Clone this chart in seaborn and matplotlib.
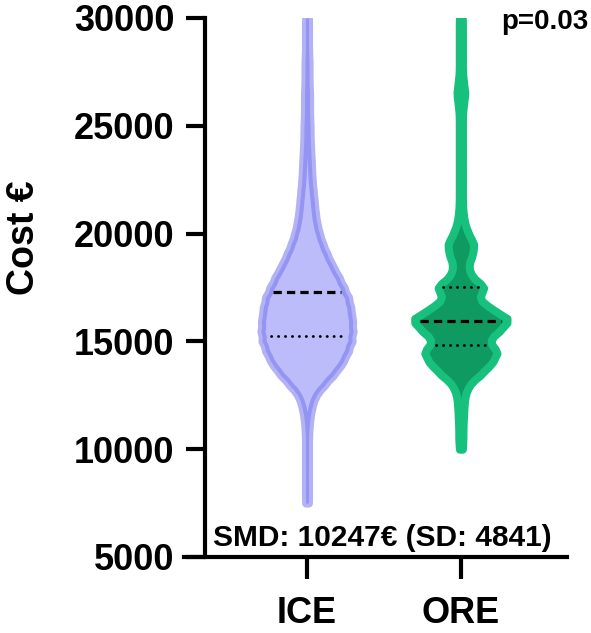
import numpy as np
import pandas as pd
import matplotlib
matplotlib.use("Agg")
import matplotlib.pyplot as plt
import seaborn as sns

# --- data ---
GROUPS = ["ICE", "ORE"]
# cost levels (EUR) and how many cases sit near each level
COST_LEVELS = [7500, 8000, 8500, 9000, 9500, 10000, 10500, 11000, 11500, 12000,
               12500, 13000, 13500, 14000, 14500, 15000, 15500, 16000, 16500, 17000,
               17500, 18000, 18500, 19000, 19500, 20000, 20500, 21000, 21500, 22000,
               22500, 23000, 23500, 24000, 24500, 25000, 25500, 26000, 26500, 27000,
               27500, 28000, 28500, 29000, 29500, 30000]
ICE_COUNTS = [3, 3, 3, 3, 3, 3, 3, 4, 6, 10,
              17, 35, 54, 70, 80, 88, 90, 89, 86, 82,
              72, 62, 50, 40, 31, 24, 19, 16, 14, 12,
              10, 9, 8, 7, 6, 6, 5, 5, 5, 4,
              4, 4, 3, 3, 3, 3]
ORE_COUNTS = [0, 0, 0, 0, 0, 3, 4, 4, 5, 6,
              8, 16, 40, 60, 72, 52, 74, 96, 58, 32,
              48, 20, 14, 22, 26, 14, 7, 4, 3, 3,
              3, 3, 3, 3, 3, 3, 3, 5, 8, 5,
              3, 3, 3, 3, 3, 3]
MEDIANS = [17300, 15950]
QUARTILES = [[15250], [14850, 17500]]
Y_TICKS = [5000, 10000, 15000, 20000, 25000, 30000]
P_TEXT = "p=0.03"
SMD_TEXT = "SMD: 10247€ (SD: 4841)"

FILL = {"ICE": "#bcbcfa", "ORE": "#0f9a62"}
EDGE = {"ICE": (0.45, 0.45, 0.93, 0.55), "ORE": "#17c07c"}

sns.set_style("ticks")
plt.rcParams["font.family"] = ["Liberation Sans", "DejaVu Sans"]
plt.rcParams["font.weight"] = "bold"
plt.rcParams["text.color"] = "black"
plt.rcParams["axes.edgecolor"] = "black"
plt.rcParams["xtick.color"] = "black"
plt.rcParams["ytick.color"] = "black"
plt.rcParams["axes.labelcolor"] = "black"

fig = plt.figure(figsize=(5.91, 6.33), dpi=100)
ax = fig.add_axes([0.3113, 0.1201, 0.6481, 0.8515])

counts = {"ICE": ICE_COUNTS, "ORE": ORE_COUNTS}
polys = {}
for g in GROUPS:
    vals = np.repeat(COST_LEVELS, counts[g])
    df = pd.DataFrame({"group": g, "cost": vals})
    sns.violinplot(data=df, x="group", y="cost", order=GROUPS, color=FILL[g],
                   linecolor=EDGE[g], linewidth=5.8, inner=None, cut=0,
                   density_norm="width", width=0.6, bw_method=0.075,
                   saturation=1, ax=ax)
    polys[g] = ax.collections[-1]
    polys[g].set_edgecolor(EDGE[g])


def half_width(poly, y, center):
    v = poly.get_paths()[0].vertices
    right = v[v[:, 0] >= center]
    order = np.argsort(right[:, 1])
    return np.interp(y, right[order, 1], right[order, 0]) - center


# median (dashed) and quartile (dotted) lines
for i, g in enumerate(GROUPS):
    hw = half_width(polys[g], MEDIANS[i], i) * 0.88
    ax.hlines(MEDIANS[i], i - hw, i + hw, color="black", lw=2.3,
              linestyles=(0, (2.6, 1.6)), zorder=5)
    for q in QUARTILES[i]:
        hw = half_width(polys[g], q, i) * 0.8
        ax.plot([i - hw, i + hw], [q, q], color="black", lw=2.0,
                linestyle=(0, (0.1, 2.4)), dash_capstyle="round", zorder=5)

sns.despine(ax=ax)
ax.spines["left"].set_position(("axes", 0.0548))
ax.spines["left"].set_linewidth(3)
ax.spines["bottom"].set_linewidth(3)

ax.set_xlim(-0.8, 1.69)
ax.set_ylim(5000, 30000)
ax.set_yticks(Y_TICKS)
ax.set_yticklabels([str(t) for t in Y_TICKS])
ax.set_xticks(range(len(GROUPS)))
ax.set_xticklabels(GROUPS)
ax.set_xlabel("")
ax.set_ylabel("Cost €", fontsize=27, fontweight="bold")
ax.yaxis.set_label_coords(-0.37, 0.592)

ax.tick_params(axis="y", length=14, width=3, pad=8, color="black", labelsize=26)
ax.tick_params(axis="x", length=16, width=3, pad=12, color="black", labelsize=26)
for lab in ax.get_xticklabels() + ax.get_yticklabels():
    lab.set_fontweight("bold")

fig.text(0.995, 0.985, P_TEXT, ha="right", va="top", fontsize=20, fontweight="bold")
ax.text(0.518, 0.02, SMD_TEXT, transform=ax.transAxes, ha="center", va="baseline",
        fontsize=21.5, fontweight="bold")

fig.savefig("out.png", dpi=100)
